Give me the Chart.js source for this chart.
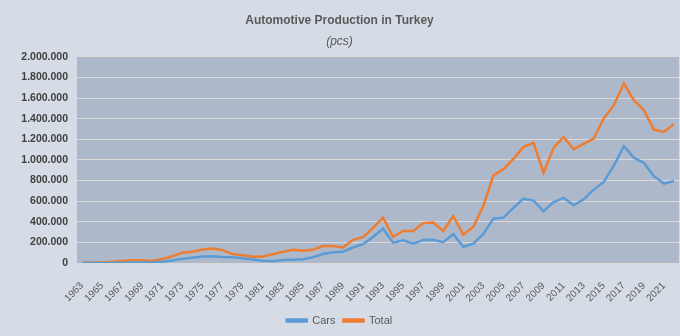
<!DOCTYPE html>
<html>
<head>
<meta charset="utf-8">
<script src="https://cdn.jsdelivr.net/npm/chart.js@4.4.1/dist/chart.umd.min.js"></script>
<style>
  html, body { margin: 0; padding: 0; background: #d6dce5; }
  #wrap { width: 680px; height: 336px; }
</style>
</head>
<body>
<div id="wrap"><canvas id="chart"></canvas></div>
<script>
// years on the x axis
const years = [];
for (let y = 1963; y <= 2022; y++) years.push(String(y));

// passenger cars (pcs)
const cars = [
  0, 0, 0, 1000, 3000, 4000, 4000, 5000, 12000, 25000,
  40000, 52000, 62000, 65000, 58000, 55000, 45000, 33000, 22000, 18000,
  28000, 32000, 36000, 56000, 87000, 104000, 110000, 150000, 182000, 252000,
  333000, 197000, 220000, 187000, 224000, 225000, 202000, 280000, 158000, 187000,
  282000, 430000, 440000, 534000, 624000, 605000, 502000, 592000, 631000, 560000,
  618000, 712000, 786000, 942000, 1133000, 1022000, 971000, 842000, 770000, 796000
];

// total vehicles (pcs)
const total = [
  3000, 4000, 6000, 12000, 20000, 26000, 27000, 20000, 38000, 66000,
  100000, 110000, 130000, 140000, 125000, 88000, 76000, 60000, 62000, 85000,
  108000, 128000, 120000, 128000, 165000, 165000, 150000, 225000, 250000, 338000,
  440000, 255000, 311000, 311000, 387000, 393000, 310000, 455000, 275000, 350000,
  555000, 850000, 910000, 1010000, 1126000, 1165000, 874000, 1117000, 1223000, 1104000,
  1155000, 1207000, 1401000, 1531000, 1741000, 1579000, 1482000, 1294000, 1272000, 1347000
];

const yTicks = [0, 200000, 400000, 600000, 800000, 1000000, 1200000, 1400000, 1600000, 1800000, 2000000];

const FONT = "'Liberation Sans', Arial, sans-serif";

const bgPlugin = {
  id: 'bg',
  beforeDraw(chart) {
    const { ctx, chartArea: a } = chart;
    ctx.save();
    ctx.fillStyle = '#d6dce5';
    ctx.fillRect(0, 0, chart.width, chart.height);
    ctx.fillStyle = '#adb9ca';
    ctx.fillRect(a.left, a.top, a.right - a.left, a.bottom - a.top);
    ctx.restore();
  }
};

const fmt = v => String(v).replace(/\B(?=(\d{3})+(?!\d))/g, '.');

new Chart(document.getElementById('chart'), {
  type: 'line',
  data: {
    labels: years,
    datasets: [
      {
        label: 'Cars',
        data: cars,
        borderColor: '#5b9bd5',
        backgroundColor: '#5b9bd5',
        borderWidth: 2.5,
        pointRadius: 0,
        tension: 0
      },
      {
        label: 'Total',
        data: total,
        borderColor: '#ed7d31',
        backgroundColor: '#ed7d31',
        borderWidth: 2.5,
        pointRadius: 0,
        tension: 0
      }
    ]
  },
  options: {
    responsive: true,
    maintainAspectRatio: false,
    animation: false,
    layout: { padding: { left: 0, right: 1, top: 0, bottom: 0 } },
    plugins: {
      title: {
        display: true,
        text: 'Automotive Production in Turkey',
        color: '#595959',
        font: { family: FONT, size: 12, weight: 'bold' },
        padding: { top: 13, bottom: 5 }
      },
      subtitle: {
        display: true,
        text: '(pcs)',
        color: '#595959',
        font: { family: FONT, size: 12, style: 'italic' },
        padding: { top: 2, bottom: 8 }
      },
      legend: {
        position: 'bottom',
        labels: {
          color: '#595959',
          font: { family: FONT, size: 11 },
          boxWidth: 20,
          boxHeight: 2,
          padding: 8
        }
      },
      tooltip: { enabled: false }
    },
    scales: {
      x: {
        offset: true,
        grid: { display: false },
        border: { display: false },
        ticks: {
          autoSkip: false,
          maxRotation: 45,
          minRotation: 45,
          padding: 9,
          color: '#595959',
          font: { family: FONT, size: 10 },
          callback: (v, i) => (i % 2 === 0 ? years[i] : '')
        },
        afterFit: s => {
          s.height = 44;
          s.paddingLeft = 0;
          s.paddingRight = 0;
        }
      },
      y: {
        min: 0,
        max: 2000000,
        afterBuildTicks: s => { s.ticks = yTicks.map(v => ({ value: v })); },
        grid: { color: '#d9d9d9', lineWidth: 1, drawTicks: false },
        border: { display: false },
        ticks: {
          padding: 9,
          color: '#404040',
          font: { family: FONT, size: 10.5, weight: 'bold' },
          callback: v => fmt(v)
        },
        afterFit: s => { s.width = 77; }
      }
    }
  },
  plugins: [bgPlugin]
});
</script>
</body>
</html>
